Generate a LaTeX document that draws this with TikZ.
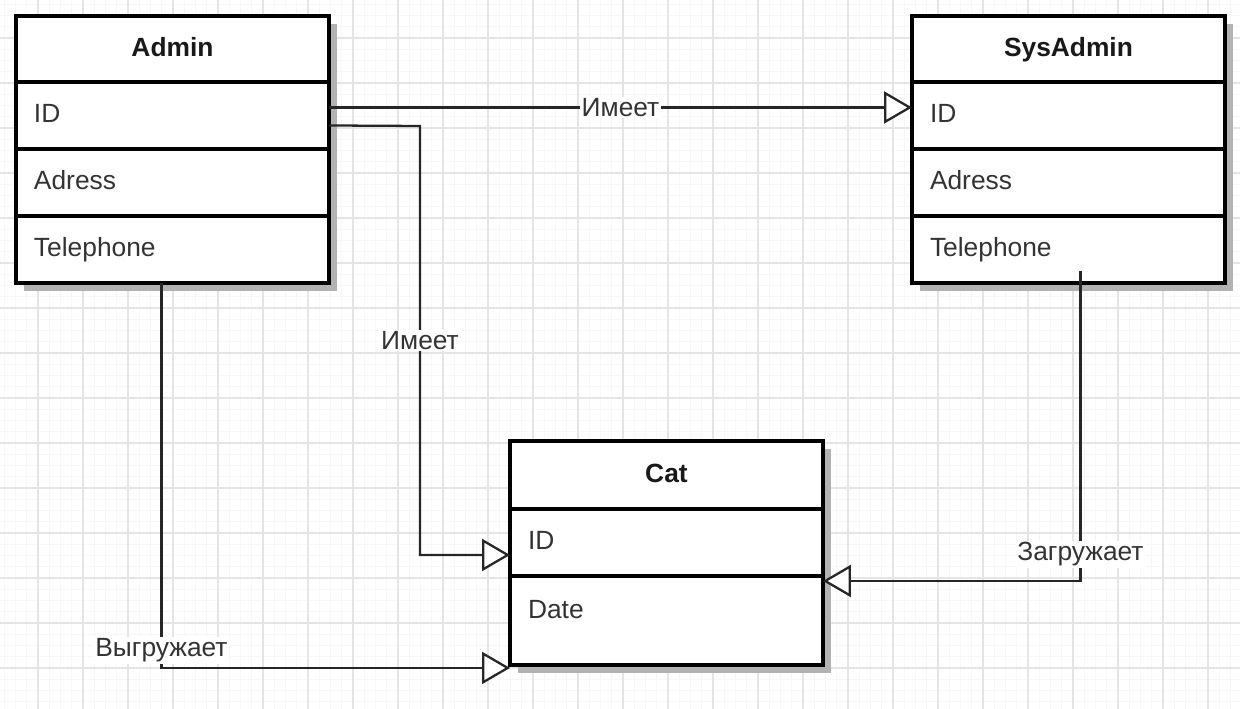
\documentclass[tikz,border=0pt]{standalone}
\usepackage{fontspec}
\setmainfont{Liberation Sans}
\usetikzlibrary{positioning,shadows,arrows.meta}

\tikzset{
  gridminor/.style={draw=gray!6, line width=0.4pt},
  gridmajor/.style={draw=gray!20, line width=0.6pt},
  box/.style={draw=black, line width=1.9pt, outer sep=0pt, fill=white,
    minimum width=6.26cm, text width=5.54cm, inner xsep=0.36cm, inner ysep=0pt,
    text height=0.38cm, text depth=0.08cm, text=black!80,
    font=\fontsize{15}{18}\selectfont,
    drop shadow={shadow xshift=0.16cm, shadow yshift=-0.16cm, fill=gray!60, opacity=1}},
  etitle/.style={box, align=center, minimum height=1.32cm,
    font=\fontsize{15}{18}\selectfont\bfseries, text=black!90},
  erow/.style={box, align=left, minimum height=1.34cm},
  conn/.style={draw=black!85, line width=1.3pt,
    -{Triangle[length=0.56cm, width=0.64cm, fill=white]}},
  lbl/.style={fill=white, inner sep=1pt, text=black!80,
    font=\fontsize{15}{18}\selectfont}
}

\begin{document}
\begin{tikzpicture}[x=0.02cm, y=-0.02cm]
\useasboundingbox (0,0) rectangle (1240,709);
\fill[white] (0,0) rectangle (1240,709);

% grid paper
\begin{scope}
\clip (0,0) rectangle (1240,709);
\foreach \i in {0,...,111} \draw[gridminor] ({-7+11.25*\i},0) -- ++(0,709);
\foreach \i in {0,...,64} \draw[gridminor] (0,{-7+11.25*\i}) -- ++(1240,0);
\foreach \i in {0,...,28} \draw[gridmajor] ({-7+45*\i},0) -- ++(0,709);
\foreach \i in {0,...,16} \draw[gridmajor] (0,{-7+45*\i}) -- ++(1240,0);
\end{scope}

% Admin
\node[etitle, anchor=north west] (admin) at (16,16) {Admin};
\node[erow, below=0pt of admin] (adminid) {ID};
\node[erow, below=0pt of adminid] (adminadr) {Adress};
\node[erow, below=0pt of adminadr] (admintel) {Telephone};

% SysAdmin
\node[etitle, anchor=north west] (sys) at (912,16) {SysAdmin};
\node[erow, below=0pt of sys] (sysid) {ID};
\node[erow, below=0pt of sysid] (sysadr) {Adress};
\node[erow, below=0pt of sysadr] (systel) {Telephone};

% Cat
\node[etitle, anchor=north west, minimum height=1.36cm] (cat) at (510,441) {Cat};
\node[erow, below=0pt of cat] (catid) {ID};
\node[erow, below=0pt of catid, minimum height=1.78cm, text depth=0.46cm] (catdate) {Date};

% links
\coordinate (bendid) at (420,126);
\draw[conn] ([yshift=0.16cm]adminid.east) -- node[lbl]{Имеет} ([yshift=0.16cm]sysid.west);
\draw[conn] ([yshift=-0.2cm]adminid.east) -- (bendid) |- node[lbl, pos=0.25]{Имеет} ([yshift=-0.25cm]catid.west);
\draw[conn] ([xshift=-0.22cm]admintel.south) |- node[lbl, pos=0.477]{Выгружает} ([yshift=-0.06cm]catdate.south west);
\draw[conn] ([xshift=0.24cm, yshift=0.24cm]systel.south) |- node[lbl, pos=0.457]{Загружает} ([yshift=-0.1cm]catdate.north east);
\end{tikzpicture}
\end{document}
